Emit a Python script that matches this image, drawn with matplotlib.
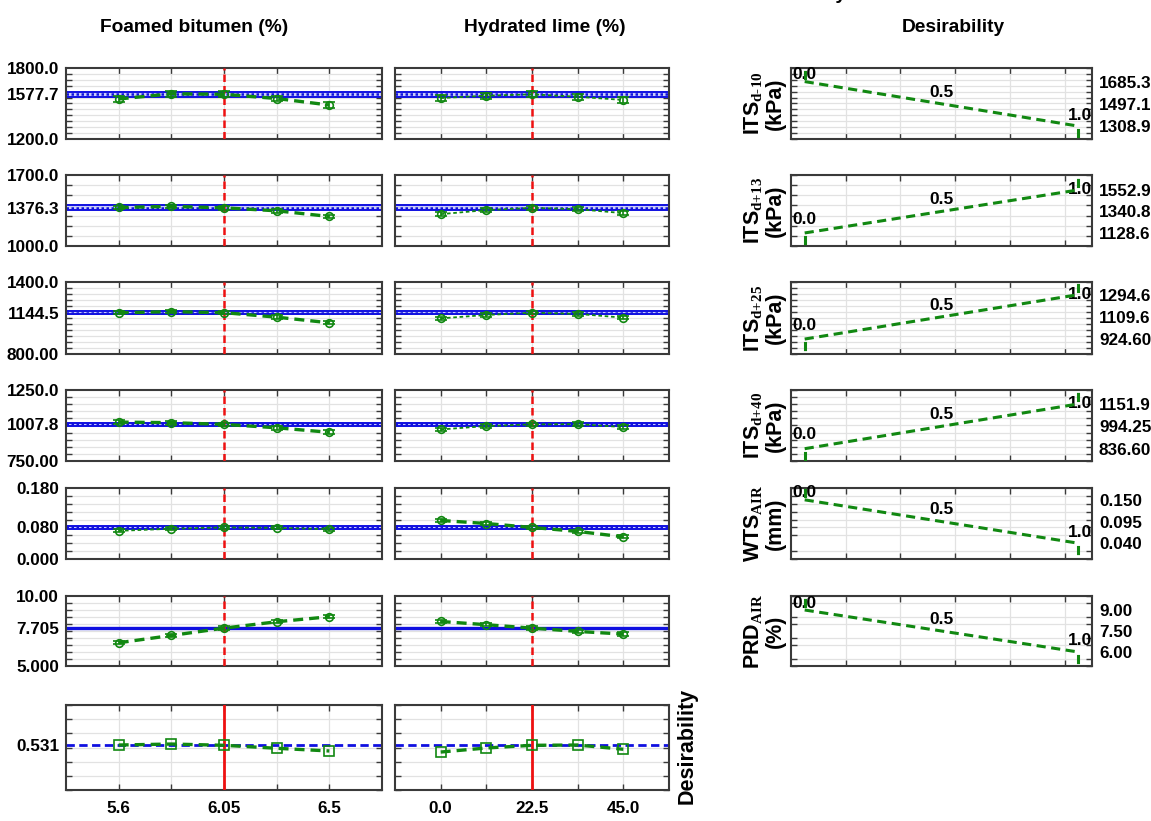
import numpy as np
import matplotlib
matplotlib.use('Agg')
import matplotlib.pyplot as plt

W, H = 1151, 821

# factor levels
fb_levels = [5.6, 5.825, 6.05, 6.275, 6.5]
hl_levels = [0.0, 11.25, 22.5, 33.75, 45.0]
fb_labels = ['5.6', '', '6.05', '', '6.5']
hl_labels = ['0.0', '', '22.5', '', '45.0']
fb_opt = 6.05
hl_opt = 22.5

# responses (rows)
pred = [1577.7, 1376.3, 1144.5, 1007.8, 0.080, 7.705]
ci_half = [22, 23, 15, 13, 0.0042, 0.0]
ylims = [(1200, 1800), (1000, 1700), (800, 1400), (750, 1250), (0, 0.18), (5, 10)]
ysteps = [50, 100, 50, 50, 0.02, 0.5]
ytick_text = [['1800.0', '1577.7', '1200.0'],
              ['1700.0', '1376.3', '1000.0'],
              ['1400.0', '1144.5', '800.00'],
              ['1250.0', '1007.8', '750.00'],
              ['0.180', '0.080', '0.000'],
              ['10.00', '7.705', '5.000']]
fb_means = [[1538, 1582, 1577.7, 1542, 1487],
            [1380, 1390, 1376.3, 1347, 1291],
            [1144, 1153, 1144.5, 1107, 1060],
            [1024, 1020, 1007.8, 984, 952],
            [0.0714, 0.0767, 0.080, 0.079, 0.0757],
            [6.66, 7.18, 7.705, 8.16, 8.52]]
hl_means = [[1546, 1566, 1577.7, 1557, 1530],
            [1314, 1354, 1376.3, 1363, 1324],
            [1097, 1125, 1144.5, 1134, 1103],
            [972, 996, 1007.8, 1010, 989],
            [0.0977, 0.090, 0.080, 0.0699, 0.0562],
            [8.18, 7.95, 7.705, 7.47, 7.28]]
err = [24, 18, 14, 13, 0.004, 0.12]

# overall desirability profile
desir_opt = 0.531
desir_fb = [0.535, 0.549, 0.531, 0.489, 0.451]
desir_hl = [0.436, 0.493, 0.531, 0.535, 0.475]

# desirability function settings (value at d=0, 0.5, 1)
d_zero = [1685.3, 1128.6, 924.60, 836.60, 0.150, 9.00]
d_half = [1497.1, 1340.8, 1109.6, 994.25, 0.095, 7.50]
d_one = [1308.9, 1552.9, 1294.6, 1151.9, 0.040, 6.00]
d_text = [['1685.3', '1497.1', '1308.9'],
          ['1552.9', '1340.8', '1128.6'],
          ['1294.6', '1109.6', '924.60'],
          ['1151.9', '994.25', '836.60'],
          ['0.150', '0.095', '0.040'],
          ['9.00', '7.50', '6.00']]
resp_labels = [r'ITS$_{\mathrm{d}\text{-}\mathrm{10}}$' + '\n(kPa)',
               r'ITS$_{\mathrm{d}\text{+}\mathrm{13}}$' + '\n(kPa)',
               r'ITS$_{\mathrm{d}\text{+}\mathrm{25}}$' + '\n(kPa)',
               r'ITS$_{\mathrm{d}\text{+}\mathrm{40}}$' + '\n(kPa)',
               r'WTS$_{\mathrm{AIR}}$' + '\n(mm)',
               r'PRD$_{\mathrm{AIR}}$' + '\n(%)']

plt.rcParams['font.family'] = ['Liberation Sans', 'DejaVu Sans']
plt.rcParams['font.weight'] = 'bold'
plt.rcParams['mathtext.fontset'] = 'custom'
plt.rcParams['mathtext.rm'] = 'Liberation Serif'
plt.rcParams['mathtext.it'] = 'Liberation Serif:italic'
plt.rcParams['mathtext.bf'] = 'Liberation Serif:bold'

GREEN = '#118811'
BLUE = '#1010e0'
RED = '#ee1111'
GRID = '#e2e2e2'
SPINE = '#3a3a3a'
TICK_FS = 12.3
NOTE_FS = 12.5
TITLE_FS = 13.8

col_x = [(66, 382), (395, 669), (791, 1092)]
row_y = [(68, 139), (175, 246), (282, 354), (390, 461), (488, 559), (596, 666), (705, 790)]


def px_rect(xs, ys):
    x0, x1 = xs
    y0, y1 = ys
    return [x0 / W, 1 - y1 / H, (x1 - x0) / W, (y1 - y0) / H]


def frame(ax, xlim, xgrid, ylim, ystep):
    ax.set_xlim(*xlim)
    ax.set_ylim(*ylim)
    ax.set_xticks(xgrid)
    ax.set_xticklabels([''] * len(xgrid))
    ax.set_yticks(np.arange(ylim[0], ylim[1] + ystep / 2, ystep), minor=True)
    ax.xaxis.grid(True, which='major', color=GRID, lw=0.9)
    ax.yaxis.grid(True, which='minor', color=GRID, lw=0.9)
    ax.set_axisbelow(True)
    ax.tick_params(axis='both', which='both', direction='in', top=True, right=True,
                   length=4, width=1, color=SPINE, labelsize=TICK_FS)
    ax.tick_params(axis='y', which='major', length=0, pad=5)
    ax.tick_params(axis='x', which='major', pad=8)
    for s in ax.spines.values():
        s.set_color(SPINE)
        s.set_linewidth(1.5)


fig = plt.figure(figsize=(W / 100, H / 100), dpi=100)

fb_xlim = (5.375, 6.725)
hl_xlim = (-11.25, 56.25)

for r in range(6):
    for c, (levels, means, xlim, opt) in enumerate([(fb_levels, fb_means, fb_xlim, fb_opt),
                                                     (hl_levels, hl_means, hl_xlim, hl_opt)]):
        ax = fig.add_axes(px_rect(col_x[c], row_y[r]))
        frame(ax, xlim, levels, ylims[r], ysteps[r])
        ax.set_yticks([ylims[r][1], pred[r], ylims[r][0]])
        ax.set_yticklabels(ytick_text[r] if c == 0 else ['', '', ''])
        # prediction line and confidence band
        if ci_half[r] > 0:
            lo, hi = pred[r] - ci_half[r], pred[r] + ci_half[r]
            ax.axhspan(lo, hi, color='#c9cdf7', lw=0, zorder=1)
            ax.axhline(lo, color=BLUE, lw=1.4, zorder=2)
            ax.axhline(hi, color=BLUE, lw=1.4, zorder=2)
            ax.axhline(pred[r], color=BLUE, lw=1.8, ls=(0, (1, 1)), zorder=2)
        else:
            ax.axhline(pred[r], color=BLUE, lw=2.4, zorder=2)
        ax.axvline(opt, color=RED, lw=1.8, ls=(0, (3, 1.6)), zorder=3)
        thin = (c == 1 and r < 4) or (c == 0 and r == 4)
        if thin:
            ax.plot(levels, means[r], color=GREEN, lw=1.3, ls=(0, (2, 1.5)), zorder=4)
        else:
            ax.plot(levels, means[r], color=GREEN, lw=2.4, ls=(0, (3, 1.8)), zorder=4)
        ax.errorbar(levels, means[r], yerr=err[r], fmt='o', mfc='none', mec=GREEN, ms=5.5,
                    mew=1.2, ecolor=GREEN, elinewidth=1.2, capsize=4.5, capthick=1.2, zorder=5)

    # desirability function panel
    ax = fig.add_axes(px_rect(col_x[2], row_y[r]))
    frame(ax, (-0.05, 1.05), [0.15, 0.35, 0.55, 0.75, 0.95], ylims[r], ysteps[r])
    vals = sorted([d_zero[r], d_half[r], d_one[r]], reverse=True)
    ax.set_yticks(vals)
    ax.set_yticklabels(d_text[r])
    ax.tick_params(axis='y', which='major', labelleft=False, labelright=True, pad=5)
    ax.plot([0, 0.5, 1], [d_zero[r], d_half[r], d_one[r]], color=GREEN, lw=2.2,
            ls=(0, (3, 1.8)), zorder=4)
    decreasing = d_zero[r] > d_one[r]
    top, bottom = ylims[r][1], ylims[r][0]
    start_edge = top if decreasing else bottom
    end_edge = bottom if decreasing else top
    ax.plot([0, 0], [d_zero[r], start_edge], color=GREEN, lw=2.2, ls=(3.7, (3, 1.5)), zorder=4)
    ax.plot([1, 1], [d_one[r], end_edge], color=GREEN, lw=2.2, ls=(3.7, (3, 1.5)), zorder=4)
    off0 = 5 if decreasing else 10
    off1 = 8 if decreasing else 0
    ax.annotate('0.0', (-0.045, d_zero[r]), xytext=(0, off0), textcoords='offset points',
                ha='left', va='center', fontsize=NOTE_FS, annotation_clip=False)
    ax.annotate('0.5', (0.5, d_half[r]), xytext=(0, 8.5), textcoords='offset points',
                ha='center', va='center', fontsize=NOTE_FS)
    ax.annotate('1.0', (1.0, d_one[r]), xytext=(1, off1), textcoords='offset points',
                ha='center', va='center', fontsize=NOTE_FS, annotation_clip=False)
    yc = 1 - (row_y[r][0] + row_y[r][1]) / 2 / H
    fig.text(764 / W, yc, resp_labels[r], rotation=90, ha='center', va='center',
             fontsize=15.5, multialignment='center', linespacing=1.05)

# overall desirability row
for c, (levels, vals, xlim, opt, labels) in enumerate([
        (fb_levels, desir_fb, fb_xlim, fb_opt, fb_labels),
        (hl_levels, desir_hl, hl_xlim, hl_opt, hl_labels)]):
    ax = fig.add_axes(px_rect(col_x[c], row_y[6]))
    frame(ax, xlim, levels, (-0.1, 1.1), 0.2)
    ax.set_xticklabels(labels)
    ax.set_yticks([desir_opt])
    ax.set_yticklabels(['0.531'] if c == 0 else [''])
    ax.axhline(desir_opt, color=BLUE, lw=2.0, ls=(0, (3, 1.6)), zorder=2)
    ax.axvline(opt, color=RED, lw=2.0, zorder=3)
    ax.plot(levels, vals, color=GREEN, lw=2.4, ls=(0, (3, 1.8)), zorder=4)
    ax.plot(levels, vals, 's', mfc='none', mec=GREEN, ms=7, mew=1.2, zorder=5)

fig.text(687 / W, 1 - 746 / H, 'Desirability', rotation=90, ha='center', va='center',
         fontsize=15.5)

# column titles
fig.text(194 / W, 1 - 27 / H, 'Foamed bitumen (%)', ha='center', va='center', fontsize=TITLE_FS)
fig.text(545 / W, 1 - 27 / H, 'Hydrated lime (%)', ha='center', va='center', fontsize=TITLE_FS)
fig.text(953 / W, 1 - 27 / H, 'Desirability', ha='center', va='center', fontsize=TITLE_FS)
# figure title, cut off at the top edge so only a descender shows
fig.text(846 / W, 1 + 1 / H, 'Profiles for Predicted Values and Desirability',
         ha='right', va='baseline', fontsize=TITLE_FS)

fig.savefig('out.png', dpi=100)
